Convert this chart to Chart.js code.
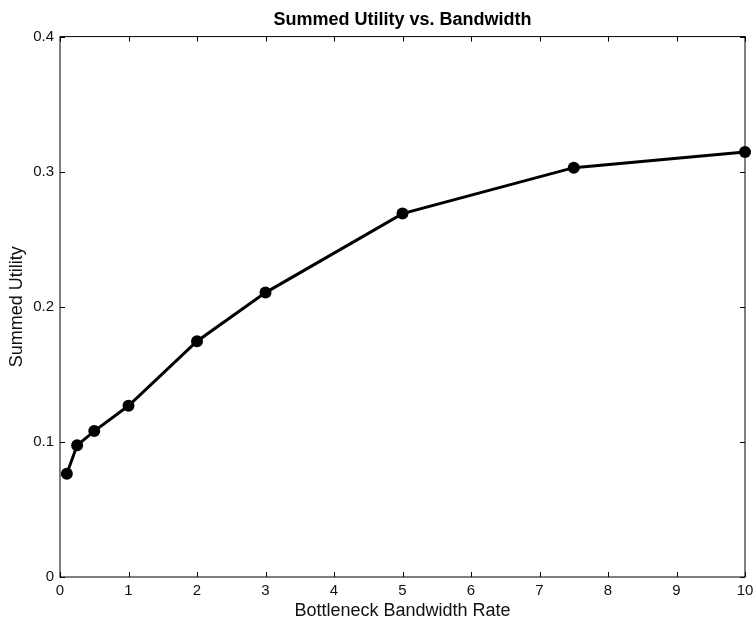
<!DOCTYPE html>
<html>
<head>
<meta charset="utf-8">
<script src="https://cdn.jsdelivr.net/npm/chart.js@4"></script>
<style>
  html, body { margin: 0; padding: 0; background: #fff; }
  #wrap { width: 756px; height: 620px; }
</style>
</head>
<body>
<div id="wrap"><canvas id="chart" width="756" height="620"></canvas></div>
<script>
const bandwidth = [0.1, 0.25, 0.5, 1, 2, 3, 5, 7.5, 10];
const utility = [0.0765, 0.0975, 0.108, 0.1267, 0.1745, 0.2105, 0.269, 0.303, 0.3145];
const xTicks = [0, 1, 2, 3, 4, 5, 6, 7, 8, 9, 10];
const yTicks = [0, 0.1, 0.2, 0.3, 0.4];

const FONT = 'Liberation Sans, Arial, Helvetica, sans-serif';

// box around plot with inward ticks on all sides (matlab style)
const boxTicks = {
  id: 'boxTicks',
  afterDraw(chart) {
    const { ctx, chartArea: a, scales: { x, y } } = chart;
    const len = 5;
    ctx.save();
    ctx.strokeStyle = '#000';
    ctx.lineWidth = 1;
    ctx.strokeRect(a.left, a.top, a.right - a.left, a.bottom - a.top);
    ctx.beginPath();
    xTicks.forEach(v => {
      const px = Math.round(x.getPixelForValue(v)) + 0.5;
      ctx.moveTo(px, a.bottom); ctx.lineTo(px, a.bottom - len);
      ctx.moveTo(px, a.top); ctx.lineTo(px, a.top + len);
    });
    yTicks.forEach(v => {
      const py = Math.round(y.getPixelForValue(v)) + 0.5;
      ctx.moveTo(a.left, py); ctx.lineTo(a.left + len, py);
      ctx.moveTo(a.right, py); ctx.lineTo(a.right - len, py);
    });
    ctx.stroke();
    ctx.restore();
  }
};

new Chart(document.getElementById('chart'), {
  type: 'scatter',
  data: {
    datasets: [{
      data: bandwidth.map((b, i) => ({ x: b, y: utility[i] })),
      showLine: true,
      borderColor: '#000',
      backgroundColor: '#000',
      borderWidth: 3,
      pointRadius: 6,
      pointBackgroundColor: '#000',
      pointBorderWidth: 0,
      clip: false
    }]
  },
  options: {
    responsive: false,
    animation: false,
    layout: { padding: { left: 0, right: 11, top: 0, bottom: 0 } },
    plugins: {
      legend: { display: false },
      tooltip: { enabled: false },
      title: {
        display: true,
        fullSize: false,
        text: 'Summed Utility vs. Bandwidth',
        color: '#000',
        font: { family: FONT, size: 18, weight: 'bold', lineHeight: 1.2 },
        padding: { top: 9, bottom: 6 }
      }
    },
    scales: {
      x: {
        type: 'linear',
        min: 0, max: 10,
        afterFit: s => { s.height = 43; s.paddingLeft = 0; s.paddingRight = 0; },
        afterBuildTicks: s => { s.ticks = xTicks.map(v => ({ value: v })); },
        grid: { display: false, drawTicks: false },
        border: { display: false },
        ticks: { color: '#111', font: { family: FONT, size: 15 }, padding: 5, maxRotation: 0 },
        title: {
          display: true,
          text: 'Bottleneck Bandwidth Rate',
          color: '#111',
          font: { family: FONT, size: 18, lineHeight: 1 },
          padding: { top: 0, bottom: 0 }
        }
      },
      y: {
        min: 0, max: 0.4,
        afterFit: s => { s.width = 60; s.paddingTop = 0; s.paddingBottom = 0; },
        afterBuildTicks: s => { s.ticks = yTicks.map(v => ({ value: v })); },
        grid: { display: false, drawTicks: false },
        border: { display: false },
        ticks: {
          color: '#111',
          font: { family: FONT, size: 15 },
          padding: 6,
          callback: v => v === 0 ? '0' : v.toFixed(1)
        },
        title: {
          display: true,
          text: 'Summed Utility',
          color: '#111',
          font: { family: FONT, size: 18, lineHeight: 1 },
          padding: { top: 8, bottom: 0 }
        }
      }
    }
  },
  plugins: [boxTicks]
});
</script>
</body>
</html>
